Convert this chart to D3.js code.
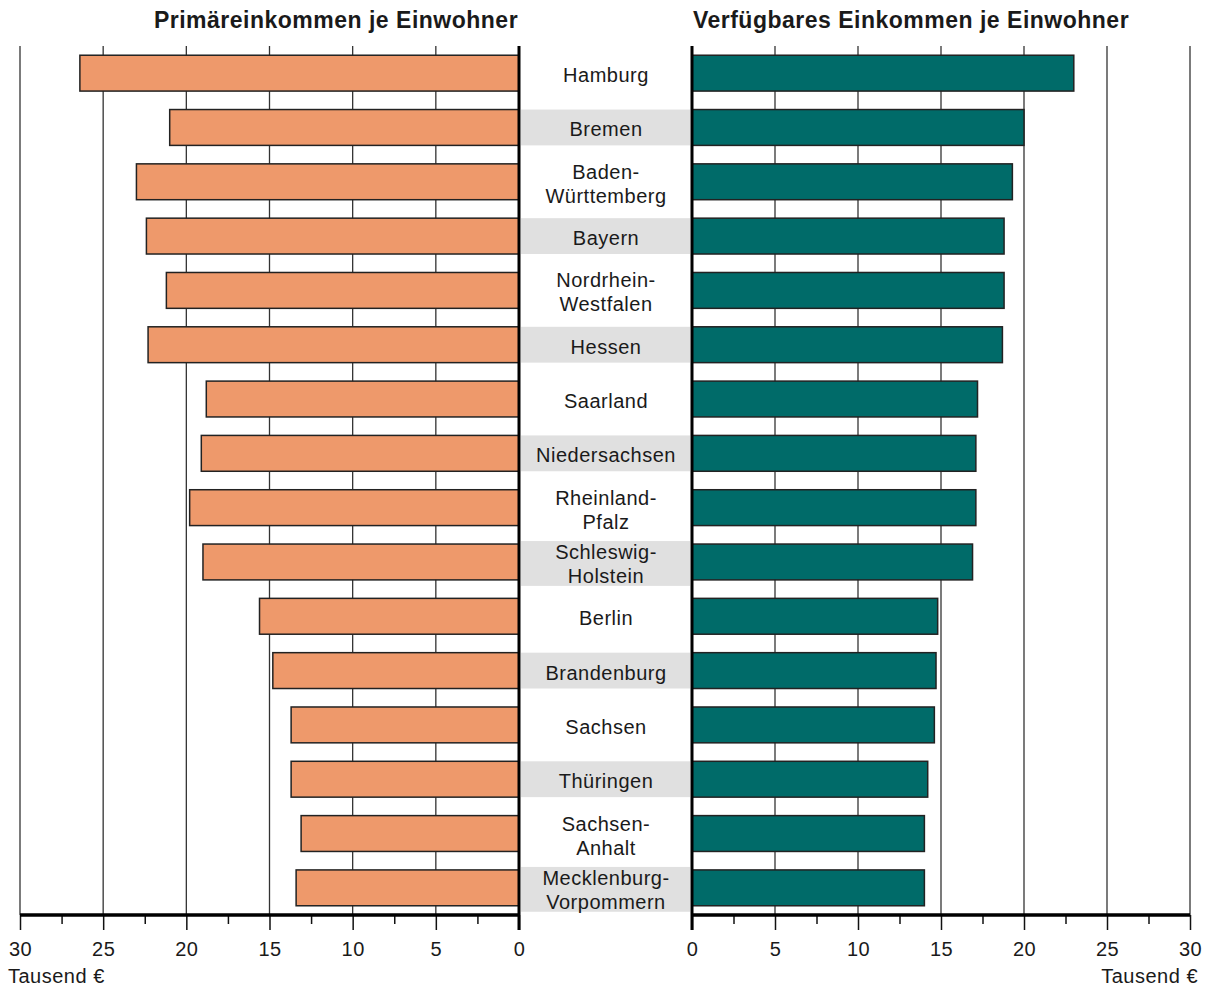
<!DOCTYPE html>
<html>
<head>
<meta charset="utf-8">
<script src="https://cdn.jsdelivr.net/npm/d3@7"></script>
<style>
    body { margin: 0; background: #fff; }
    svg text { font-family: "Liberation Sans", Arial, Helvetica, sans-serif; fill: #1a1a1a; }
</style>
</head>
<body>
<div id="chart"></div>
<script>
// States, top to bottom. "\n" marks a line break in the centre label
const states = [
    "Hamburg", "Bremen", "Baden-\nWürttemberg", "Bayern", "Nordrhein-\nWestfalen",
    "Hessen", "Saarland", "Niedersachsen", "Rheinland-\nPfalz", "Schleswig-\nHolstein",
    "Berlin", "Brandenburg", "Sachsen", "Thüringen", "Sachsen-\nAnhalt",
    "Mecklenburg-\nVorpommern"
];

// Primary income per inhabitant (thousand €)
const primaryIncome = [26.4, 21.0, 23.0, 22.4, 21.2, 22.3, 18.8, 19.1, 19.8, 19.0, 15.6, 14.8, 13.7, 13.7, 13.1, 13.4];

// Disposable income per inhabitant (thousand €)
const disposableIncome = [23.0, 20.0, 19.3, 18.8, 18.8, 18.7, 17.2, 17.1, 17.1, 16.9, 14.8, 14.7, 14.6, 14.2, 14.0, 14.0];

const majorTicks = [0, 5, 10, 15, 20, 25, 30];
const minorTicks = [2.5, 7.5, 12.5, 17.5, 22.5, 27.5];

const leftTitle = "Primäreinkommen je Einwohner";
const rightTitle = "Verfügbares Einkommen je Einwohner";
const unitLabel = "Tausend €";

drawChart();

function drawChart() {
    const width = 1211, height = 987;
    const top = 46, baseY = 915;

    const svg = d3.select("#chart")
        .append("svg")
        .attr("width", width)
        .attr("height", height);

    // scales
    const y = d3.scaleBand()
        .domain(states)
        .range([top, baseY])
        .paddingInner(0.34)
        .paddingOuter(0.17);

    const xLeft = d3.scaleLinear().domain([0, 30]).range([519, 20]);
    const xRight = d3.scaleLinear().domain([0, 30]).range([692, 1190]);

    // vertical grid lines
    [xLeft, xRight].forEach(function(x) {
        svg.append("g")
            .selectAll("line")
            .data(majorTicks.filter(t => t > 0))
            .enter()
            .append("line")
            .attr("x1", d => x(d))
            .attr("x2", d => x(d))
            .attr("y1", top)
            .attr("y2", baseY)
            .attr("stroke", "#333")
            .attr("stroke-width", 1.3);
    });

    // grey backgrounds behind every other label
    const bh = y.bandwidth();
    svg.append("g")
        .selectAll("rect")
        .data(states.filter((d, i) => i % 2 === 1))
        .enter()
        .append("rect")
        .attr("x", 521)
        .attr("width", 169)
        .attr("y", d => d.includes("\n") ? y(d) - 3 : y(d))
        .attr("height", d => d.includes("\n") ? bh + 9 : bh)
        .attr("fill", "#e0e0e0");

    // left bars (primary income)
    svg.append("g")
        .selectAll("rect")
        .data(states)
        .enter()
        .append("rect")
        .attr("x", (d, i) => xLeft(primaryIncome[i]))
        .attr("width", (d, i) => xLeft(0) - xLeft(primaryIncome[i]))
        .attr("y", d => y(d))
        .attr("height", bh)
        .attr("fill", "#ee996b")
        .attr("stroke", "#222")
        .attr("stroke-width", 1.5);

    // right bars (disposable income)
    svg.append("g")
        .selectAll("rect")
        .data(states)
        .enter()
        .append("rect")
        .attr("x", xRight(0))
        .attr("width", (d, i) => xRight(disposableIncome[i]) - xRight(0))
        .attr("y", d => y(d))
        .attr("height", bh)
        .attr("fill", "#006b69")
        .attr("stroke", "#222")
        .attr("stroke-width", 1.5);

    // centre labels
    const labels = svg.append("g")
        .selectAll("text")
        .data(states)
        .enter()
        .append("text")
        .attr("text-anchor", "middle")
        .style("font-size", "20px")
        .style("letter-spacing", "0.5px");

    labels.each(function(d) {
        const lines = d.split("\n");
        const cy = y(d) + bh / 2;
        const el = d3.select(this);
        lines.forEach(function(line, k) {
            const offset = lines.length === 1 ? 0 : (k === 0 ? -12 : 12);
            el.append("tspan")
                .attr("x", 606)
                .attr("y", cy + offset + 9)
                .text(line);
        });
    });

    // axes: minor and major ticks
    function addAxis(x) {
        const minor = svg.append("g")
            .attr("transform", `translate(0,${baseY})`)
            .call(d3.axisBottom(x).tickValues(minorTicks).tickSize(9).tickFormat(""));
        minor.select(".domain").remove();
        minor.selectAll("line").attr("stroke", "#111").attr("stroke-width", 1.5);

        const major = svg.append("g")
            .attr("transform", `translate(0,${baseY})`)
            .call(d3.axisBottom(x).tickValues(majorTicks).tickSize(15).tickPadding(12));
        major.select(".domain").remove();
        major.selectAll("line").attr("stroke", "#111").attr("stroke-width", 1.5);
        major.selectAll("text")
            .attr("fill", "#1a1a1a")
            .style("font-size", "20px")
            .style("letter-spacing", "0.5px")
            .style("font-family", "'Liberation Sans', Arial, sans-serif");

        // thick base line
        svg.append("line")
            .attr("x1", x(30))
            .attr("x2", x(0))
            .attr("y1", baseY)
            .attr("y2", baseY)
            .attr("stroke", "#000")
            .attr("stroke-width", 3.5);

        // thick zero line
        svg.append("line")
            .attr("x1", x(0))
            .attr("x2", x(0))
            .attr("y1", top)
            .attr("y2", baseY + 15)
            .attr("stroke", "#000")
            .attr("stroke-width", 3);
    }
    addAxis(xLeft);
    addAxis(xRight);

    // unit labels
    svg.append("text")
        .attr("x", 8)
        .attr("y", 983)
        .style("font-size", "20px")
        .style("letter-spacing", "0.5px")
        .text(unitLabel);

    svg.append("text")
        .attr("x", 1198)
        .attr("y", 983)
        .attr("text-anchor", "end")
        .style("font-size", "20px")
        .style("letter-spacing", "0.5px")
        .text(unitLabel);

    // titles
    svg.append("text")
        .attr("x", 336)
        .attr("y", 28)
        .attr("text-anchor", "middle")
        .style("font-size", "23px")
        .style("font-weight", "bold")
        .style("letter-spacing", "0.5px")
        .text(leftTitle);

    svg.append("text")
        .attr("x", 911)
        .attr("y", 28)
        .attr("text-anchor", "middle")
        .style("font-size", "23px")
        .style("font-weight", "bold")
        .style("letter-spacing", "0.5px")
        .text(rightTitle);
}
</script>
</body>
</html>
